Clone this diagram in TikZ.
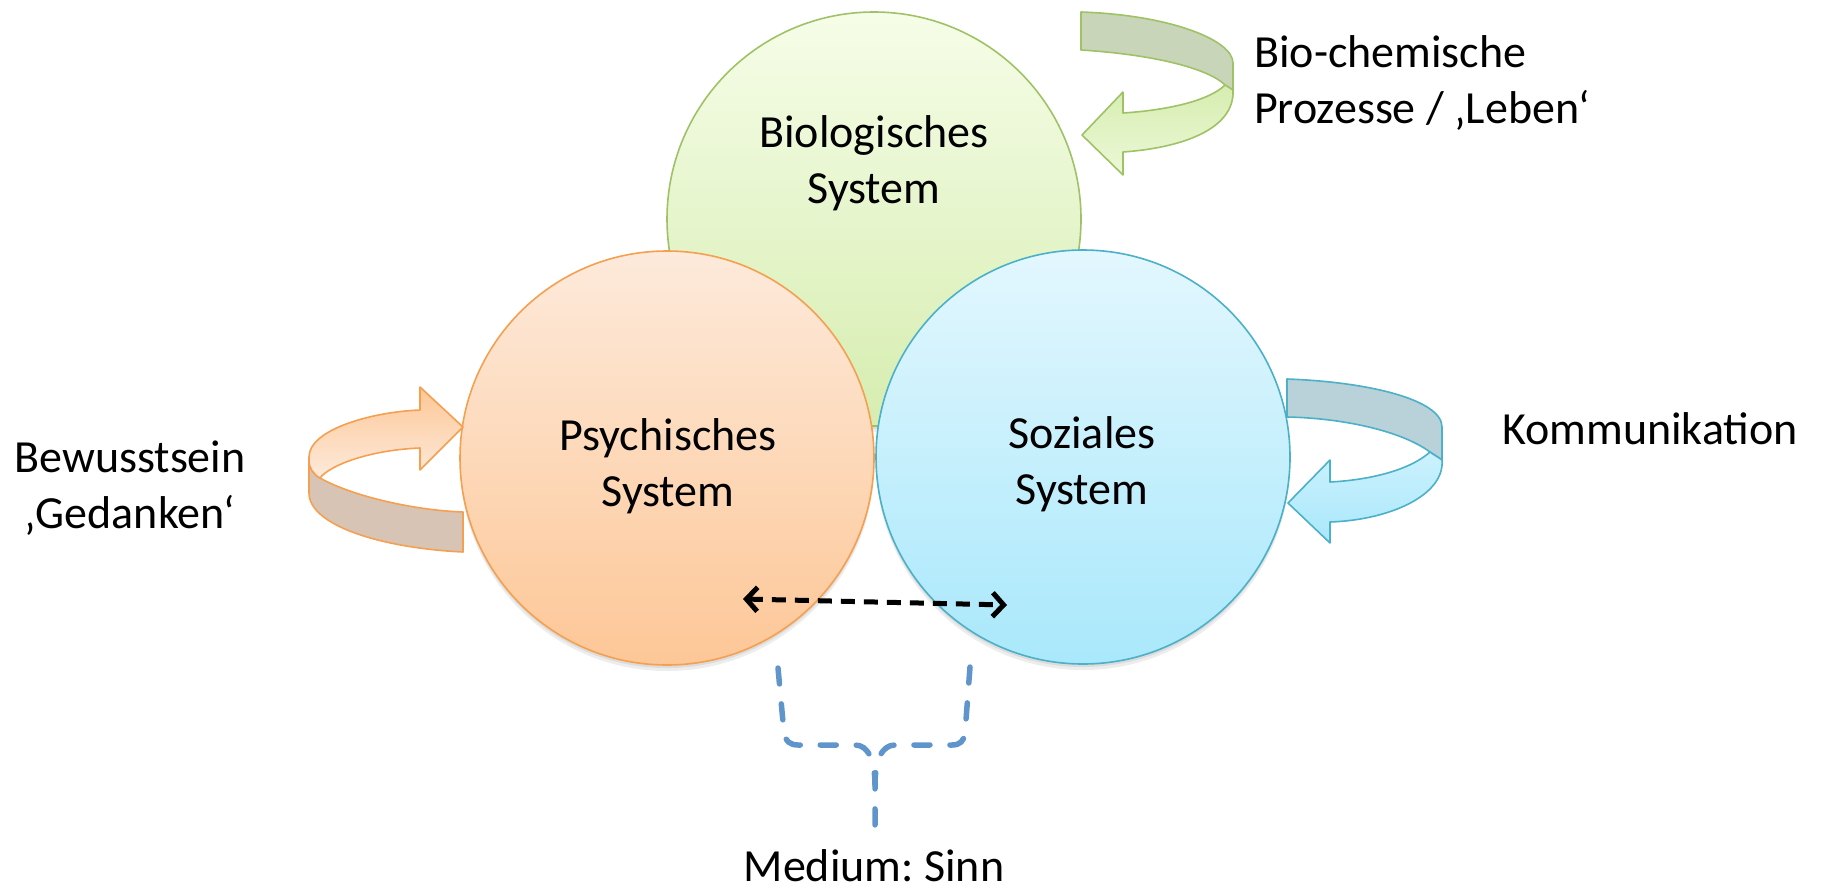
\documentclass[tikz,border=0pt]{standalone}
\usepackage{fontspec}
\setmainfont{Carlito}
\usetikzlibrary{arrows.meta}
\definecolor{gLine}{HTML}{9FC267}
\definecolor{gTop}{HTML}{F6FDE8}
\definecolor{gBot}{HTML}{D6EDB0}
\definecolor{gBack}{HTML}{C9D5B9}
\definecolor{oLine}{HTML}{F5A050}
\definecolor{oTop}{HTML}{FDEADB}
\definecolor{oBot}{HTML}{FDC797}
\definecolor{oBack}{HTML}{D7C4B5}
\definecolor{bLine}{HTML}{4BB0C8}
\definecolor{bTop}{HTML}{E3F7FE}
\definecolor{bBot}{HTML}{A9E8FB}
\definecolor{bBack}{HTML}{B9D1D9}
\definecolor{braceBlue}{HTML}{5F95CB}
\tikzset{
  sys/.style={circle, minimum size=414pt, inner sep=0pt, line width=1.6pt},
  shadowc/.style={circle, minimum size=414pt, inner sep=0pt, fill=black, opacity=0.07},
  txt/.style={font=\fontsize{46}{56}\selectfont, align=center, inner sep=0pt},
  ribbon/.style={line width=1.6pt, line join=round},
  medarrow/.style={line width=5pt, dash pattern=on 14pt off 9pt, {Straight Barb[length=11pt,width=24pt]}-{Straight Barb[length=11pt,width=24pt]}},
  bracel/.style={line width=5.5pt, draw=braceBlue, dash pattern=on 16pt off 20pt, line cap=round},
}
\frenchspacing
\begin{document}
\begin{tikzpicture}[x=1pt,y=-1pt]
\useasboundingbox (0,0) rectangle (1828,889);
% circles with soft shadows
\node[shadowc] (sbio1) at (874,222) {};
\node[shadowc] (sbio2) at (874,225) {};
\node[sys, draw=gLine, top color=gTop, bottom color=gBot] (bio) at (874,219) {};
\node[shadowc] (spsy1) at (667,461) {};
\node[shadowc] (spsy2) at (667,464) {};
\node[sys, draw=oLine, top color=oTop, bottom color=oBot] (psy) at (667,458) {};
\node[shadowc] (ssoz1) at (1083,460) {};
\node[shadowc] (ssoz2) at (1083,463) {};
\node[sys, draw=bLine, top color=bTop, bottom color=bBot] (soz) at (1083,457) {};
% texts
\node[txt] (tbio) at (874,163) {Biologisches\\System};
\node[txt] (tpsy) at (668,466) {Psychisches\\System};
\node[txt] (tsoz) at (1082,464) {Soziales\\System};
\node[txt, anchor=west, align=left] (tleb) at (1254,83) {Bio-chemische\\Prozesse / ‚Leben‘};
\node[txt, anchor=west] (tkom) at (1502,429) {Kommunikation};
\node[txt] (tbew) at (130,488) {Bewusstsein\\‚Gedanken‘};
\node[txt] (tmed) at (874,866) {Medium: Sinn};
% green ribbon arrow
\filldraw[ribbon, draw=gLine, fill=gBack] (1081,12) .. controls (1170,15) and (1233,40) .. (1233,63) -- (1233,90)
  .. controls (1230,88) and (1228,87) .. (1225,85) .. controls (1210,70) and (1160,55) .. (1081,50) -- cycle;
\filldraw[ribbon, draw=gLine, top color=gBot, bottom color=gTop!70!gBot] (1225,85) .. controls (1228,87) and (1230,88) .. (1233,90)
  .. controls (1235,130) and (1180,148) .. (1123,152) -- (1123,175) -- (1082,135) -- (1123,92) -- (1123,113)
  .. controls (1170,110) and (1210,100) .. (1225,85) -- cycle;
% orange ribbon arrow
\filldraw[ribbon, draw=oLine, fill=oBack] (463,512) -- (463,552) .. controls (380,548) and (309,525) .. (309,493) -- (309,460)
  .. controls (309,468) and (313,474) .. (320,478) .. controls (350,495) and (410,510) .. (463,512) -- cycle;
\filldraw[ribbon, draw=oLine, top color=oBot, bottom color=oTop] (309,457) .. controls (309,430) and (370,412) .. (420,410)
  -- (420,387) -- (463,427) -- (420,470) -- (420,448) .. controls (370,450) and (330,465) .. (320,478)
  .. controls (313,474) and (309,468) .. (309,460) -- cycle;
% blue ribbon arrow
\filldraw[ribbon, draw=bLine, fill=bBack] (1287,379) .. controls (1370,382) and (1442,400) .. (1442,427) -- (1442,460)
  .. controls (1438,457) and (1434,455) .. (1430,452) .. controls (1400,430) and (1340,418) .. (1287,417) -- cycle;
\filldraw[ribbon, draw=bLine, top color=bTop!60!bBot, bottom color=bBot] (1430,452) .. controls (1434,455) and (1438,457) .. (1442,460)
  .. controls (1445,495) and (1390,520) .. (1330,522) -- (1330,543) -- (1288,503) -- (1330,460) -- (1330,482)
  .. controls (1370,480) and (1410,470) .. (1430,452) -- cycle;
% medium arrow
\coordinate (ml) at (743,599);
\coordinate (mr) at (1007,605);
\draw[medarrow] (ml) -- (mr);
% brace
\coordinate (bl) at (778,668);
\coordinate (br) at (970,667);
\coordinate (bj) at (875,785);
\coordinate (bs) at (875,830);
\draw[bracel] (bl) -- (784,733) .. controls (785,741) and (790,745) .. (798,745) -- (855,745)
  .. controls (868,745) and (875,760) .. (bj) -- (bs);
\draw[bracel] (br) -- (965,733) .. controls (964,741) and (960,745) .. (952,745) -- (895,745)
  .. controls (882,745) and (875,760) .. (bj);
\end{tikzpicture}
\end{document}
